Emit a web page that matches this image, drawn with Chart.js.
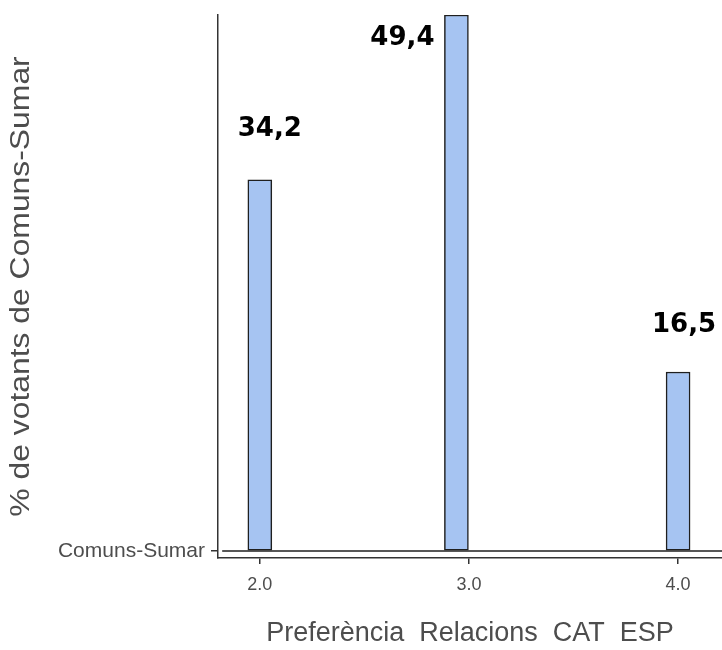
<!DOCTYPE html>
<html>
<head>
<meta charset="utf-8">
<script src="https://cdn.jsdelivr.net/npm/chart.js@4"></script>
<style>
  body { margin: 0; background: #fff; }
  #wrap { width: 722px; height: 650px; }
</style>
</head>
<body>
<div id="wrap"><canvas id="histChart" width="722" height="650"></canvas></div>
<script>
// bins of the histogram (preference value) and % of voters
const binX = [2.0, 2.94, 4.0];
const pctVoters = [34.2, 49.4, 16.5];
const pctLabels = ['34,2', '49,4', '16,5'];
const xTicks = [2, 3, 4];
const yTickLabel = 'Comuns-Sumar';
// histogram outline along the bottom
const baseX = [1.82, 4.21];
const baseY = [0, 0];

const FONT = "'Liberation Sans', Arial, sans-serif";
const GREY = '#4d4d4d';

// where each value label sits relative to the top of its bar (px)
const labelShift = [[10, -51], [-54, 23], [6, -47]];

const valueLabels = {
  id: 'valueLabels',
  afterDatasetsDraw(chart) {
    const ctx = chart.ctx;
    const meta = chart.getDatasetMeta(0);
    ctx.save();
    ctx.font = "bold 26px 'DejaVu Sans', Verdana, sans-serif";
    ctx.fillStyle = '#000';
    ctx.textAlign = 'center';
    ctx.textBaseline = 'middle';
    meta.data.forEach((bar, i) => {
      ctx.fillText(pctLabels[i], bar.x + labelShift[i][0], bar.y + labelShift[i][1]);
    });
    ctx.restore();
  }
};

// y title, a bit stretched along its length like the original
const yTitle = {
  id: 'yTitle',
  afterDraw(chart) {
    const ctx = chart.ctx;
    const a = chart.chartArea;
    ctx.save();
    ctx.translate(22, (a.top + a.bottom) / 2);
    ctx.rotate(-Math.PI / 2);
    ctx.scale(1.18, 1);
    ctx.font = '27px ' + FONT;
    ctx.fillStyle = GREY;
    ctx.textAlign = 'center';
    ctx.textBaseline = 'middle';
    ctx.fillText('% de votants de Comuns-Sumar', 0, 0);
    ctx.restore();
  }
};

const CHART = document.getElementById('histChart').getContext('2d');

let histChart = new Chart(CHART, {
  type: 'bar',
  data: {
    datasets: [{
      data: binX.map((x, i) => ({ x: x, y: pctVoters[i] })),
      backgroundColor: '#a6c4f2',
      borderColor: '#1f1f1f',
      borderWidth: 1.5,
      borderSkipped: false,
      barThickness: 24,
      order: 2
    }, {
      type: 'line',
      data: baseX.map((x, i) => ({ x: x, y: baseY[i] })),
      borderColor: '#1f1f1f',
      borderWidth: 1.5,
      pointRadius: 0,
      order: 1
    }]
  },
  options: {
    responsive: false,
    animation: false,
    layout: { padding: { top: 15, right: 0, left: 0, bottom: 0 } },
    plugins: { legend: { display: false }, tooltip: { enabled: false } },
    scales: {
      x: {
        type: 'linear',
        offset: false,
        min: 1.8,
        max: 4.21,
        afterBuildTicks: (axis) => { axis.ticks = xTicks.map(v => ({ value: v })); },
        afterFit: (axis) => { axis.height = 92; },
        ticks: {
          color: GREY,
          font: { family: FONT, size: 18 },
          padding: 10,
          callback: (v) => Number(v).toFixed(1)
        },
        grid: { offset: false, drawOnChartArea: false, drawTicks: true, tickLength: 6, color: '#333', lineWidth: 1.5 },
        border: { display: true, color: '#333', width: 1.5 },
        title: {
          display: true,
          text: 'Preferència  Relacions  CAT  ESP',
          color: GREY,
          font: { family: FONT, size: 27 },
          padding: { top: 4, bottom: 0 }
        }
      },
      y: {
        min: -0.645,
        max: 49.4,
        afterBuildTicks: (axis) => { axis.ticks = [{ value: 0 }]; },
        afterFit: (axis) => {
          axis.width = 218;
          axis.paddingTop = 0;
          axis.paddingBottom = 0;
        },
        ticks: {
          color: GREY,
          font: { family: FONT, size: 21 },
          padding: 6,
          callback: () => yTickLabel
        },
        grid: { drawOnChartArea: false, drawTicks: true, tickLength: 7, color: '#333', lineWidth: 1.5 },
        border: { display: true, color: '#333', width: 1.5 }
      }
    }
  },
  plugins: [valueLabels, yTitle]
});
</script>
</body>
</html>
